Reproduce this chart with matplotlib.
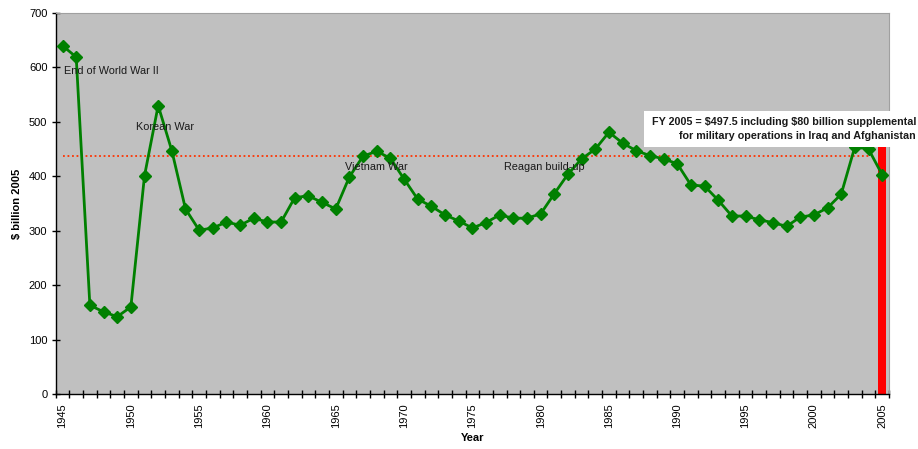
import matplotlib
matplotlib.use('Agg')
import matplotlib.pyplot as plt
import matplotlib.patches as patches

plt.rcParams['font.family'] = ['Liberation Sans', 'DejaVu Sans']

# Chi tieu quoc phong theo nam ($ ty, gia 2005)
years = list(range(1945, 2006))
spending = [640, 619, 163, 151, 142, 160, 401, 530, 447, 340,
            301, 305, 316, 310, 323, 316, 316, 361, 364, 352,
            340, 399, 437, 446, 433, 395, 358, 345, 329, 318,
            305, 315, 329, 323, 323, 331, 368, 404, 432, 450,
            481, 461, 447, 438, 432, 423, 384, 382, 356, 327,
            327, 320, 315, 308, 325, 329, 342, 367, 454, 450,
            403]
fy2005_total = 497.5
average_level = 437
avg_years = (1945, 2004)

notes = ["End of World War II", "Korean War", "Vietnam War", "Reagan build-up"]
note_pos = [(1945.1, 593), (1950.4, 490), (1965.7, 417), (1977.3, 417)]
box_lines = "FY 2005 = \\$497.5 including \\$80 billion supplemental\nfor military operations in Iraq and Afghanistan"

fig = plt.figure(figsize=(9.18, 4.49), dpi=100)
ax = fig.add_axes([0.0607, 0.1225, 0.9077, 0.8485])
ax.set_facecolor('#c0c0c0')

# cot do cho nam 2005
ax.bar([2005], [fy2005_total], width=0.6, color='#ff0000', zorder=2)

# duong trung binh
ax.plot(avg_years, [average_level, average_level], color='#ff3300',
        linestyle=(0, (1, 1.5)), linewidth=1.3, zorder=2)

ax.plot(years, spending, color='#008000', linewidth=2, marker='D',
        markersize=6, markeredgecolor='#008000', zorder=3)

for txt, (x, y) in zip(notes, note_pos):
    ax.text(x, y, txt, fontsize=7.8, color='#1a1a1a', ha='left', va='center', zorder=4)

ax.set_xlim(1944.5, 2005.5)
ax.set_ylim(0, 700)
ax.set_yticks(range(0, 701, 100))

label_years = list(range(1945, 2006, 5))
ax.set_xticks(label_years)
ax.set_xticklabels([str(y) for y in label_years], rotation=90)
ax.set_xticks([y + 0.5 for y in range(1944, 2006)], minor=True)
ax.tick_params(axis='x', which='major', length=0, pad=7, labelsize=8)
ax.tick_params(axis='x', which='minor', direction='inout', length=6, width=1)
ax.tick_params(axis='y', direction='inout', length=6, width=1, labelsize=8, pad=3)

for side in ['top', 'right']:
    ax.spines[side].set_color('#a0a0a0')
for side in ['left', 'bottom']:
    ax.spines[side].set_color('black')
    ax.spines[side].set_linewidth(1)

ax.set_xlabel('Year', fontsize=8, fontweight='bold', labelpad=3)
ax.set_ylabel('\\$ billion 2005', fontsize=8, fontweight='bold', labelpad=5)

# hop ghi chu FY 2005
fig.patches.append(patches.Rectangle((644 / 918, 1 - 147 / 449), 1 - 644 / 918, 36 / 449,
                                     transform=fig.transFigure, facecolor='white',
                                     edgecolor='none', zorder=5))
fig.text(916 / 918, 1 - 129 / 449, box_lines, fontsize=7.75, fontweight='bold',
         ha='right', va='center', multialignment='right', color='#1a1a1a',
         linespacing=1.4, zorder=6)

fig.savefig('out.png', dpi=100)
